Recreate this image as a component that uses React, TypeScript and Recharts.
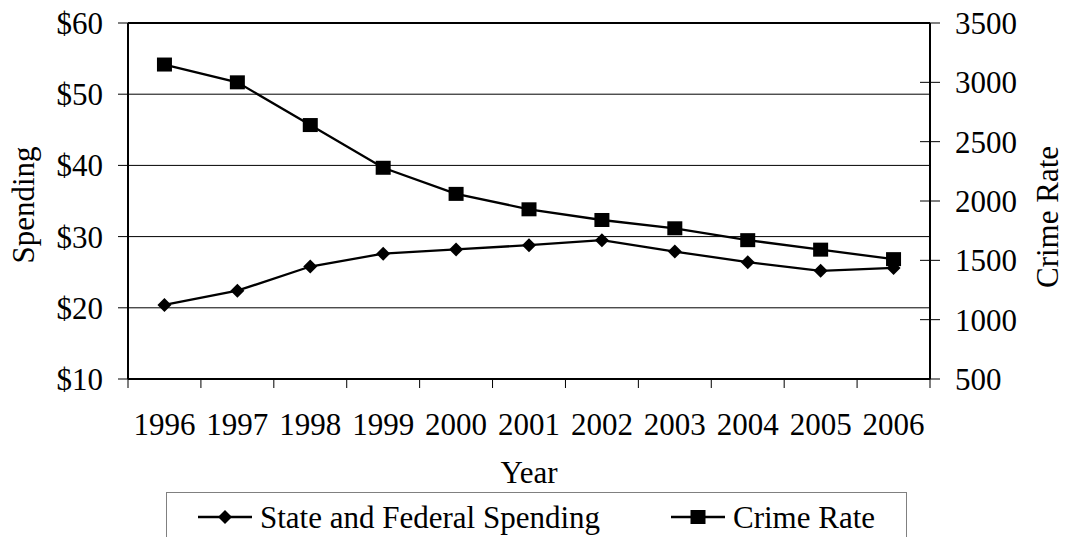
import {
  ComposedChart,
  Line,
  XAxis,
  YAxis,
  CartesianGrid,
  Legend,
  ReferenceLine,
} from 'recharts';

const years = ['1996', '1997', '1998', '1999', '2000', '2001', '2002', '2003', '2004', '2005', '2006'];
const spending = [20.4, 22.4, 25.8, 27.6, 28.2, 28.8, 29.5, 27.9, 26.4, 25.2, 25.6];
const crimeRate = [3150, 3000, 2640, 2280, 2060, 1930, 1840, 1770, 1670, 1590, 1510];
const spendingTicks = [10, 20, 30, 40, 50, 60];
const crimeTicks = [500, 1000, 1500, 2000, 2500, 3000, 3500];

const data = years.map((year, i) => ({
  year,
  spending: spending[i],
  crime: crimeRate[i],
}));

const FONT = '"Liberation Serif", "Times New Roman", Times, serif';
const FONT_SIZE = 31;

// diamond marker for the spending series
const Diamond = ({ cx, cy }: any) => {
  if (cx == null || cy == null) return null;
  const r = 7;
  return (
    <polygon
      points={`${cx},${cy - r} ${cx + r},${cy} ${cx},${cy + r} ${cx - r},${cy}`}
      fill="#000"
    />
  );
};

// square marker for the crime series
const Square = ({ cx, cy }: any) => {
  if (cx == null || cy == null) return null;
  const w = 15;
  const h = 14;
  return <rect x={cx - w / 2} y={cy - h / 2} width={w} height={h} fill="#000" />;
};

// year labels sit in the middle of each band, tick marks on the band edges
const YearTick = (props: any) => {
  const { x, y, payload, index } = props;
  const half = payload.offset || 36.45;
  return (
    <g>
      <line x1={x - half} x2={x - half} y1={y} y2={y + 9} stroke="#000" strokeWidth={1} />
      {index === years.length - 1 && (
        <line x1={x + half} x2={x + half} y1={y} y2={y + 9} stroke="#000" strokeWidth={1} />
      )}
      <text x={x} y={y + 56} textAnchor="middle" fill="#000" fontSize={FONT_SIZE} fontFamily={FONT}>
        {payload.value}
      </text>
    </g>
  );
};

// right axis ticks cross the axis line
const CrimeTick = (props: any) => {
  const { x, y, payload } = props;
  return (
    <g>
      <line x1={x - 10} x2={x + 10} y1={y} y2={y} stroke="#000" strokeWidth={1} />
      <text x={x + 25} y={y} dy="0.35em" textAnchor="start" fill="#000" fontSize={FONT_SIZE} fontFamily={FONT}>
        {payload.value}
      </text>
    </g>
  );
};

// legend slots inside the box, keyed by series
const legendSlots: Record<string, { icon: number; text: number }> = {
  spending: { icon: 31, text: 93 },
  crime: { icon: 504, text: 566 },
};

const LegendBox = ({ payload }: any) => (
  <div
    style={{
      width: 741,
      height: 60,
      border: '1px solid #808080',
      boxSizing: 'border-box',
      background: '#fff',
    }}
  >
    <svg width={739} height={58} style={{ display: 'block' }}>
      {(payload || []).map((entry: any) => {
        const slot = legendSlots[entry.dataKey];
        if (!slot) return null;
        const cx = slot.icon + 27;
        return (
          <g key={entry.dataKey}>
            <line x1={slot.icon} x2={slot.icon + 54} y1={24} y2={24} stroke="#000" strokeWidth={2.3} />
            {entry.dataKey === 'spending' ? <Diamond cx={cx} cy={24} /> : <Square cx={cx} cy={24} />}
            <text x={slot.text} y={35} fill="#000" fontSize={FONT_SIZE} fontFamily={FONT}>
              {entry.value}
            </text>
          </g>
        );
      })}
    </svg>
  </div>
);

export default function App() {
  return (
    <div
      style={{
        position: 'absolute',
        left: 0,
        top: 0,
        width: 1066,
        height: 537,
        overflow: 'hidden',
        background: '#fff',
      }}
    >
      <ComposedChart
        width={1066}
        height={537}
        data={data}
        margin={{ top: 23, right: 0, bottom: 0, left: 0 }}
      >
        <CartesianGrid yAxisId="left" vertical={false} stroke="#000" strokeWidth={1} />
        <XAxis
          dataKey="year"
          scale="band"
          height={158}
          interval={0}
          tickLine={false}
          tickSize={0}
          tickMargin={0}
          axisLine={{ stroke: '#000', strokeWidth: 2 }}
          tick={<YearTick />}
          label={{
            content: ({ viewBox }: any) => (
              <text
                x={viewBox.x + viewBox.width / 2}
                y={viewBox.y + 104}
                textAnchor="middle"
                fill="#000"
                fontSize={FONT_SIZE}
                fontFamily={FONT}
              >
                Year
              </text>
            ),
          }}
        />
        <YAxis
          yAxisId="left"
          orientation="left"
          width={128}
          domain={[10, 60]}
          ticks={spendingTicks}
          interval={0}
          tickFormatter={(v: number) => `$${v}`}
          tickSize={10}
          tickMargin={15}
          tickLine={{ stroke: '#000', strokeWidth: 1 }}
          axisLine={{ stroke: '#000', strokeWidth: 2 }}
          tick={{ fill: '#000', fontSize: FONT_SIZE, fontFamily: FONT }}
          label={{
            content: ({ viewBox }: any) => {
              const x = viewBox.x + 34;
              const y = viewBox.y + viewBox.height / 2 + 4;
              return (
                <text
                  x={x}
                  y={y}
                  transform={`rotate(-90, ${x}, ${y})`}
                  textAnchor="middle"
                  fill="#000"
                  fontSize={FONT_SIZE}
                  fontFamily={FONT}
                >
                  Spending
                </text>
              );
            },
          }}
        />
        <YAxis
          yAxisId="right"
          orientation="right"
          width={136}
          domain={[500, 3500]}
          ticks={crimeTicks}
          interval={0}
          tickLine={false}
          tickSize={0}
          tickMargin={0}
          axisLine={{ stroke: '#000', strokeWidth: 2 }}
          tick={<CrimeTick />}
          label={{
            content: ({ viewBox }: any) => {
              const x = viewBox.x + 128;
              const y = viewBox.y + viewBox.height / 2 + 16;
              return (
                <text
                  x={x}
                  y={y}
                  transform={`rotate(-90, ${x}, ${y})`}
                  textAnchor="middle"
                  fill="#000"
                  fontSize={FONT_SIZE}
                  fontFamily={FONT}
                >
                  Crime Rate
                </text>
              );
            },
          }}
        />
        <ReferenceLine yAxisId="left" y={60} stroke="#000" strokeWidth={2} />
        <Legend
          layout="horizontal"
          verticalAlign="middle"
          align="center"
          wrapperStyle={{ left: 166, top: 492, width: 741, height: 60 }}
          content={<LegendBox />}
        />
        <Line
          yAxisId="left"
          type="linear"
          dataKey="spending"
          name="State and Federal Spending"
          stroke="#000"
          strokeWidth={2.3}
          dot={<Diamond />}
          activeDot={false}
          isAnimationActive={false}
        />
        <Line
          yAxisId="right"
          type="linear"
          dataKey="crime"
          name="Crime Rate"
          stroke="#000"
          strokeWidth={2.3}
          dot={<Square />}
          activeDot={false}
          isAnimationActive={false}
        />
      </ComposedChart>
    </div>
  );
}
